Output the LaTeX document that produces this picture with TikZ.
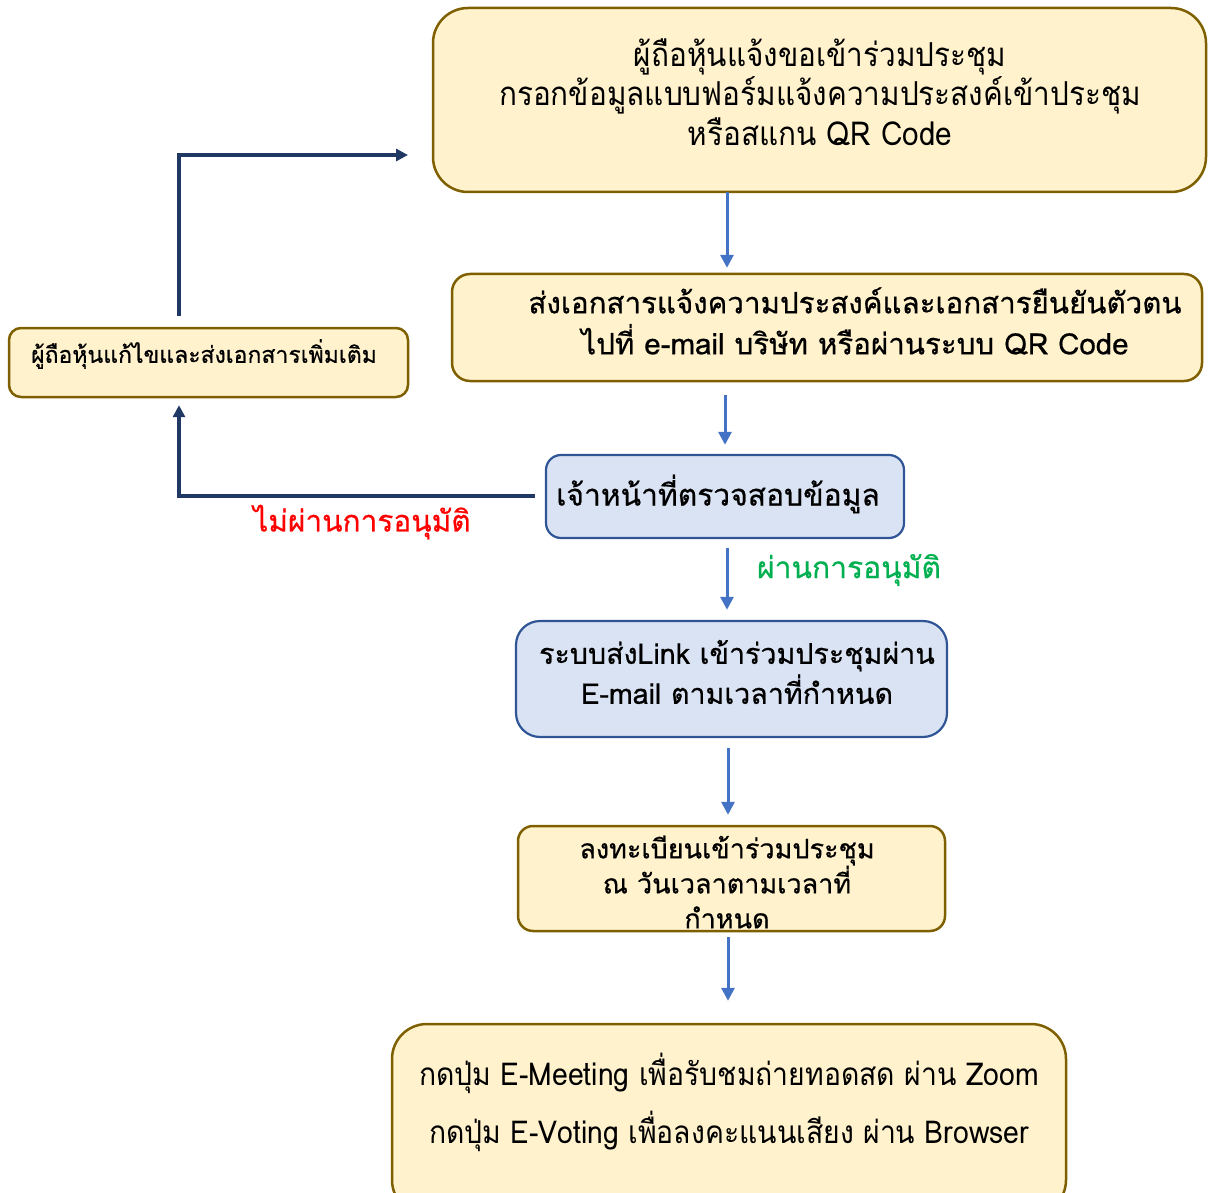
\documentclass[tikz,border=0pt]{standalone}
\usepackage{fontspec}
\usetikzlibrary{arrows.meta}
\newfontfamily\thai[Script=Thai,FakeBold=0.6]{Loma}
\newfontfamily\thainar[Script=Thai,FakeStretch=0.9]{Loma}
\definecolor{yfill}{HTML}{FFF2CC}
\definecolor{ydraw}{HTML}{7F6000}
\definecolor{bfill}{HTML}{DAE3F3}
\definecolor{bdraw}{HTML}{2F5597}
\definecolor{barrow}{HTML}{4472C4}
\definecolor{navy}{HTML}{1F3864}
\definecolor{okgreen}{HTML}{00B050}
\tikzset{
  ybox/.style={draw=ydraw, fill=yfill, line width=2.5pt},
  bbox/.style={draw=bdraw, fill=bfill, line width=2.2pt},
  txt/.style={align=center, inner sep=0pt},
  barr/.style={draw=barrow, line width=3pt, -{Triangle[length=13pt,width=13pt]}},
  narr/.style={draw=navy, line width=3.5pt, -{Triangle[length=12pt,width=12pt]}},
}
\begin{document}
\begin{tikzpicture}[x=1pt,y=-1pt]
\useasboundingbox (0,0) rectangle (1208,1193);
% boxes
\path[ybox, rounded corners=35pt] (433,8) rectangle (1206,192);
\node[inner sep=0pt, minimum width=773pt, minimum height=184pt] (top) at (819.5,100) {};
\path[ybox, rounded corners=18pt] (452,274) rectangle (1202,381);
\node[inner sep=0pt, minimum width=750pt, minimum height=107pt] (send) at (827,327.5) {};
\path[ybox, rounded corners=12pt] (9,328) rectangle (408,397);
\node[inner sep=0pt, minimum width=399pt, minimum height=69pt] (fix) at (208.5,362.5) {};
\path[bbox, rounded corners=15pt] (546,455) rectangle (904,538);
\node[inner sep=0pt, minimum width=358pt, minimum height=83pt] (check) at (725,496.5) {};
\path[bbox, rounded corners=24pt] (516,621) rectangle (947,737);
\node[inner sep=0pt, minimum width=431pt, minimum height=116pt] (link) at (731.5,679) {};
\path[ybox, rounded corners=15pt] (518,826) rectangle (945,931);
\node[inner sep=0pt, minimum width=427pt, minimum height=105pt] (reg) at (731.5,878.5) {};
\path[ybox, rounded corners=35pt] (392,1024) rectangle (1066,1215);
\node[inner sep=0pt, minimum width=674pt, minimum height=191pt] (vote) at (729,1119.5) {};
% texts
\node[txt, font=\thainar\fontsize{33}{39.5}\selectfont] (topT) at (820,92) {ผู้ถือหุ้นแจ้งขอเข้าร่วมประชุม\\กรอกข้อมูลแบบฟอร์มแจ้งความประสงค์เข้าประชุม\\หรือสแกน QR Code};
\node[txt, font=\thai\fontsize{29.5}{41}\selectfont] (sendT) at (855,321) {ส่งเอกสารแจ้งความประสงค์และเอกสารยืนยันตัวตน\\ไปที่ e-mail บริษัท หรือผ่านระบบ QR Code};
\node[txt, font=\thai\fontsize{23}{24}\selectfont] (fixT) at (204,354) {ผู้ถือหุ้นแก้ไขและส่งเอกสารเพิ่มเติม};
\node[txt, font=\thai\fontsize{30}{34}\selectfont] (checkT) at (718,494) {เจ้าหน้าที่ตรวจสอบข้อมูล};
\node[txt, font=\thai\fontsize{28.6}{40}\selectfont] (linkT) at (737,672) {ระบบส่งLink เข้าร่วมประชุมผ่าน\\E-mail ตามเวลาที่กำหนด};
\node[txt, font=\thai\fontsize{27}{35}\selectfont] (regT) at (727,882) {ลงทะเบียนเข้าร่วมประชุม\\ณ วันเวลาตามเวลาที่\\กำหนด};
\node[txt, font=\thainar\fontsize{31.5}{58}\selectfont] (voteT) at (729,1102) {กดปุ่ม E-Meeting เพื่อรับชมถ่ายทอดสด ผ่าน Zoom\\กดปุ่ม E-Voting เพื่อลงคะแนนเสียง ผ่าน Browser};
\node[txt, text=red, font=\thai\fontsize{29.8}{34}\selectfont] (noT) at (362,522) {ไม่ผ่านการอนุมัติ};
\node[txt, text=okgreen, font=\thai\fontsize{30}{34}\selectfont] (okT) at (849,570) {ผ่านการอนุมัติ};
% connectors
\coordinate (c1) at (727,0);
\coordinate (c2) at (725,0);
\coordinate (c3) at (727,0);
\coordinate (c4) at (728,0);
\draw[barr, shorten >=6pt] (top.south -| c1) -- (send.north -| c1);
\draw[barr, shorten <=14pt, shorten >=10pt] (send.south -| c2) -- (check.north -| c2);
\draw[barr, shorten <=10pt, shorten >=11pt] (check.south -| c3) -- (link.north -| c3);
\draw[barr, shorten <=11pt, shorten >=11pt] (link.south -| c4) -- (reg.north -| c4);
\draw[barr, shorten <=6pt, shorten >=23pt] (reg.south -| c4) -- (vote.north -| c4);
\coordinate (l1) at (179,496);
\coordinate (l2) at (179,155);
\coordinate (l3) at (408,155);
\draw[narr, shorten <=11pt, shorten >=8pt] (check.west |- l1) -- (l1) -- (fix.south -| l1);
\draw[narr, shorten <=12pt] (fix.north -| l2) -- (l2) -- (l3);
\end{tikzpicture}
\end{document}
